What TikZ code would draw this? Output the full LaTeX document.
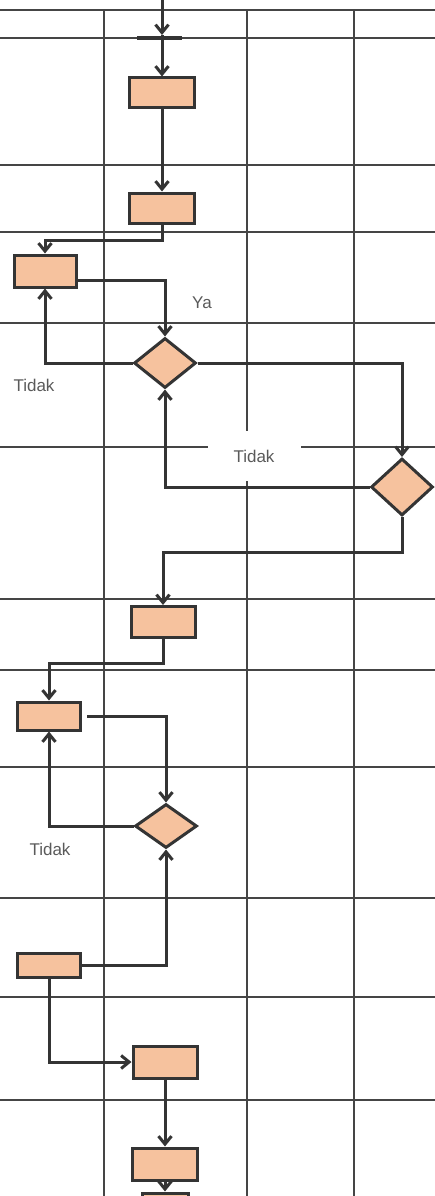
\documentclass[tikz,border=0pt]{standalone}
\usepackage{fontspec}
\setmainfont{Liberation Sans}
\usetikzlibrary{arrows.meta,shapes.geometric}
\definecolor{boxfill}{HTML}{F6C29E}
\definecolor{ink}{HTML}{343434}
\definecolor{gridc}{HTML}{454545}
\definecolor{txt}{HTML}{5A5A5A}
\begin{document}
\begin{tikzpicture}[x=1pt,y=-1pt,
  gridline/.style={draw=gridc,line width=1.4pt},
  proc/.style={draw=ink,line width=3pt,fill=boxfill,inner sep=0pt,minimum width=64pt,minimum height=30pt},
  dec/.style={diamond,draw=ink,line width=3pt,fill=boxfill,inner sep=0pt,minimum width=62pt,minimum height=50pt},
  conn/.style={draw=ink,line width=3pt},
  arr/.style={conn,-{Straight Barb[length=8pt,width=13pt]}},
  lbl/.style={text=txt,font=\fontsize{17}{20}\selectfont,inner sep=1pt}
]
\useasboundingbox (0,0) rectangle (435,1196);
% grid
\foreach \y in {10,38,165,232,323,447,599,670,767,898,997,1100}
  \draw[gridline] (0,\y) -- (435,\y);
\foreach \x in {104,247,354}
  \draw[gridline] (\x,10) -- (\x,1196);
% label gap
\node[lbl,fill=white,minimum width=93pt,minimum height=50pt] (lt2) at (254,456) {Tidak};
\node[lbl] (lya) at (202,303) {Ya};
\node[lbl] (lt1) at (34,385) {Tidak};
\node[lbl] (lt3) at (50,849) {Tidak};
% start bar
\coordinate (bl) at (137,38);
\coordinate (br) at (182,38);
\draw[conn,line width=4pt] (bl) -- (br);
\coordinate (s0) at (162,0);
\coordinate (s1) at (162,35);
% nodes
\node[proc,minimum width=65pt] (b1) at (162,93) {};
\node[proc,minimum width=65pt] (b2) at (162,208) {};
\node[proc,minimum width=62pt,minimum height=32pt] (b3) at (45,271) {};
\node[dec] (d1) at (165,363) {};
\node[dec,minimum height=57pt] (d2) at (402,487) {};
\node[proc,minimum height=31pt] (b4) at (163,622) {};
\node[proc,minimum width=63pt,minimum height=28pt] (b5) at (49,716) {};
\node[dec,minimum height=44pt] (d3) at (166,826) {};
\node[proc,minimum width=63pt,minimum height=24pt] (b6) at (49,965) {};
\node[proc,minimum height=32pt] (b7) at (165,1062) {};
\node[proc,minimum width=65pt,minimum height=32pt] (b8) at (165,1164) {};
\node[proc,minimum width=46pt,minimum height=30pt] (b9) at (165,1208) {};
% connectors
\draw[arr] (s0) -- (s1);
\draw[arr] (s1) -- (b1.north);
\draw[arr] (b1.south) -- (b2.north);
\draw[arr] (b2.south) -- (b2.south |- 0,240) -| (b3.north);
\draw[arr] (b3.east |- 0,280) -| (d1.north);
\draw[arr] (d1.west) -| (b3.south);
\draw[arr] (d1.east) -| (d2.north);
\draw[arr] (d2.west) -| (d1.south);
\draw[arr] (d2.south) -- (d2.south |- 0,552) -| (b4.north);
\draw[arr] (b4.south) -- (b4.south |- 0,663) -| (b5.north);
\draw[arr] ([xshift=5pt]b5.east) -| (d3.north);
\draw[arr] (d3.west) -| (b5.south);
\draw[arr] (b6.east) -| (d3.south);
\draw[arr] (b6.south) |- (b7.west);
\draw[arr] (b7.south) -- (b8.north);
\draw[arr] (b8.south) -- (b9.north);
\end{tikzpicture}
\end{document}
